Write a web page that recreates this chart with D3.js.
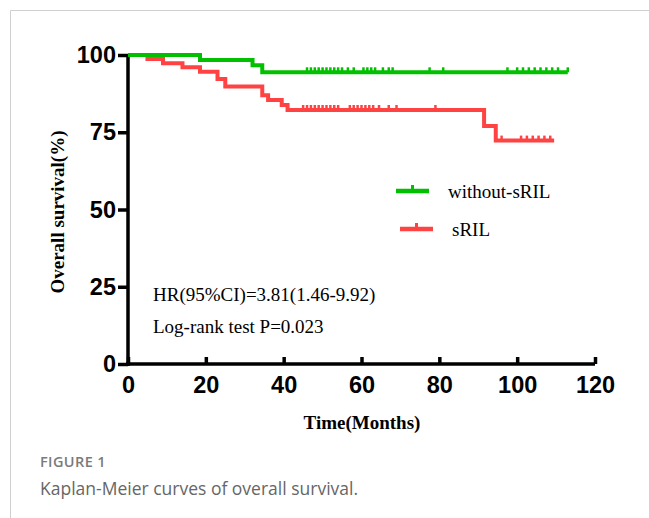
<!DOCTYPE html>
<html>
<head>
<meta charset="utf-8">
<script src="https://cdn.jsdelivr.net/npm/d3@7"></script>
<style>
  body { margin: 0; background: #fff; }
  svg { display: block; }
</style>
</head>
<body>
<div id="chart"></div>
<script>
var width = 649;
var height = 518;

// survival curves: step times (months) and survival (%)
var groupNames = ["without-sRIL", "sRIL"];
var greenTimes = [0, 18.5, 32, 34.5];
var greenSurv = [100, 98.4, 96.7, 94.4];
var greenEnd = 113;
var greenCensor = [46, 47, 48, 49, 50, 51, 52, 53, 54, 55, 56.5, 58, 60.5, 61.5, 62.5, 63.5, 65.5, 67, 68, 77.5, 81, 97.5, 100, 101.5, 103, 104.5, 106, 107.5, 109, 110.5, 113];

var redTimes = [0, 5, 9, 14, 18.5, 23, 25, 34.5, 36, 39.5, 41, 91.5, 94.5];
var redSurv = [100, 98.7, 97.3, 96, 94.6, 92.2, 89.8, 87, 85.4, 83.8, 82.2, 77, 72.3];
var redEnd = 109.5;
var redCensor = [45, 46, 47, 48, 49, 50, 51, 52, 53, 54, 57, 58, 59, 60, 61, 62, 63, 64.5, 67, 69, 79, 96, 101, 102.5, 104, 105.5, 107, 108.5];

var xTicks = [0, 20, 40, 60, 80, 100, 120];
var yTicks = [0, 25, 50, 75, 100];

var svg = d3.select("#chart").append("svg").attr("width", width).attr("height", height);

// frame lines of the figure box
svg.append("line").attr("x1", 10.5).attr("x2", 649).attr("y1", 10.5).attr("y2", 10.5).attr("stroke", "#cfcfcf");
svg.append("line").attr("x1", 10.5).attr("x2", 10.5).attr("y1", 10.5).attr("y2", 518).attr("stroke", "#cfcfcf");

var x = d3.scaleLinear().domain([0, 120]).range([128, 595]);
var y = d3.scaleLinear().domain([0, 100]).range([364, 55]);

// axes
var yAxis = svg.append("g").attr("transform", "translate(128,0)")
  .call(d3.axisLeft(y).tickValues(yTicks).tickSize(10).tickSizeOuter(0).tickPadding(2));
var xAxis = svg.append("g").attr("transform", "translate(0,364)")
  .call(d3.axisBottom(x).tickValues(xTicks).tickSize(-7).tickSizeOuter(0).tickPadding(12));

[yAxis, xAxis].forEach(function(a) {
  a.select(".domain").attr("stroke", "#000").attr("stroke-width", 3.5);
  a.selectAll(".tick line").attr("stroke", "#000").attr("stroke-width", 3.5);
  a.selectAll(".tick text").attr("fill", "#000")
    .style("font-family", "Liberation Sans, Arial, sans-serif")
    .style("font-weight", "bold").style("font-size", "23.5px");
});
yAxis.select(".domain").attr("d", "M0,54V366");
xAxis.select(".domain").attr("d", "M" + (x(0) - 2) + ",0H" + x(120));

function stepData(times, surv, end) {
  var pts = times.map(function(t, i) { return [t, surv[i]]; });
  pts.push([end, surv[surv.length - 1]]);
  return pts;
}
function survAt(times, surv, t) {
  return surv[d3.bisectRight(times, t) - 1];
}

var line = d3.line()
  .x(function(d) { return x(d[0]); })
  .y(function(d) { return y(d[1]); })
  .curve(d3.curveStepAfter);

var groups = [
  { name: groupNames[0], color: "#00c000", times: greenTimes, surv: greenSurv, end: greenEnd, censor: greenCensor },
  { name: groupNames[1], color: "#ff4343", times: redTimes, surv: redSurv, end: redEnd, censor: redCensor }
];

// draw red first so green sits on top
groups.slice().reverse().forEach(function(g) {
  svg.append("path")
    .datum(stepData(g.times, g.surv, g.end))
    .attr("fill", "none")
    .attr("stroke", g.color)
    .attr("stroke-width", 4)
    .attr("d", line);

  svg.selectAll(null)
    .data(g.censor)
    .enter().append("line")
    .attr("x1", function(d) { return x(d); })
    .attr("x2", function(d) { return x(d); })
    .attr("y1", function(d) { return y(survAt(g.times, g.surv, d)); })
    .attr("y2", function(d) { return y(survAt(g.times, g.surv, d)) - 5; })
    .attr("stroke", g.color)
    .attr("stroke-width", 2.5);
});

// legend
var legend = svg.selectAll(".legend")
  .data(groups)
  .enter().append("g")
  .attr("class", "legend")
  .attr("transform", function(d, i) { return "translate(" + (396 + i * 4) + "," + (191 + i * 38) + ")"; });
legend.append("line").attr("x1", 0).attr("x2", 33).attr("y1", 0).attr("y2", 0)
  .attr("stroke", function(d) { return d.color; }).attr("stroke-width", 4.5);
legend.append("line").attr("x1", 16.5).attr("x2", 16.5).attr("y1", 0).attr("y2", -6)
  .attr("stroke", function(d) { return d.color; }).attr("stroke-width", 3);
legend.append("text")
  .attr("x", 52).attr("y", 7)
  .style("font-family", "Liberation Serif, Times New Roman, serif")
  .style("font-size", "19px")
  .text(function(d) { return d.name; });

// annotations
var notes = ["HR(95%CI)=3.81(1.46-9.92)", "Log-rank test P=0.023"];
svg.selectAll(".note")
  .data(notes)
  .enter().append("text")
  .attr("class", "note")
  .attr("x", 153)
  .attr("y", function(d, i) { return 301 + i * 32; })
  .style("font-family", "Liberation Serif, Times New Roman, serif")
  .style("font-size", "19px")
  .text(function(d) { return d; });

// axis titles
svg.append("text")
  .attr("transform", "translate(64,212) rotate(-90)")
  .attr("text-anchor", "middle")
  .style("font-family", "Liberation Serif, Times New Roman, serif")
  .style("font-weight", "bold").style("font-size", "19px")
  .text("Overall survival(%)");
svg.append("text")
  .attr("x", 362).attr("y", 429)
  .attr("text-anchor", "middle")
  .style("font-family", "Liberation Serif, Times New Roman, serif")
  .style("font-weight", "bold").style("font-size", "19px")
  .text("Time(Months)");

// caption
svg.append("text")
  .attr("x", 40).attr("y", 467)
  .attr("fill", "#7a7a7a")
  .style("font-family", "Open Sans, sans-serif")
  .style("font-weight", "600").style("font-size", "14.5px")
  .style("letter-spacing", "0.4px")
  .text("FIGURE 1");
svg.append("text")
  .attr("x", 40).attr("y", 495)
  .attr("fill", "#666")
  .style("font-family", "Open Sans, sans-serif")
  .style("font-size", "17.5px")
  .text("Kaplan-Meier curves of overall survival.");
</script>
</body>
</html>
